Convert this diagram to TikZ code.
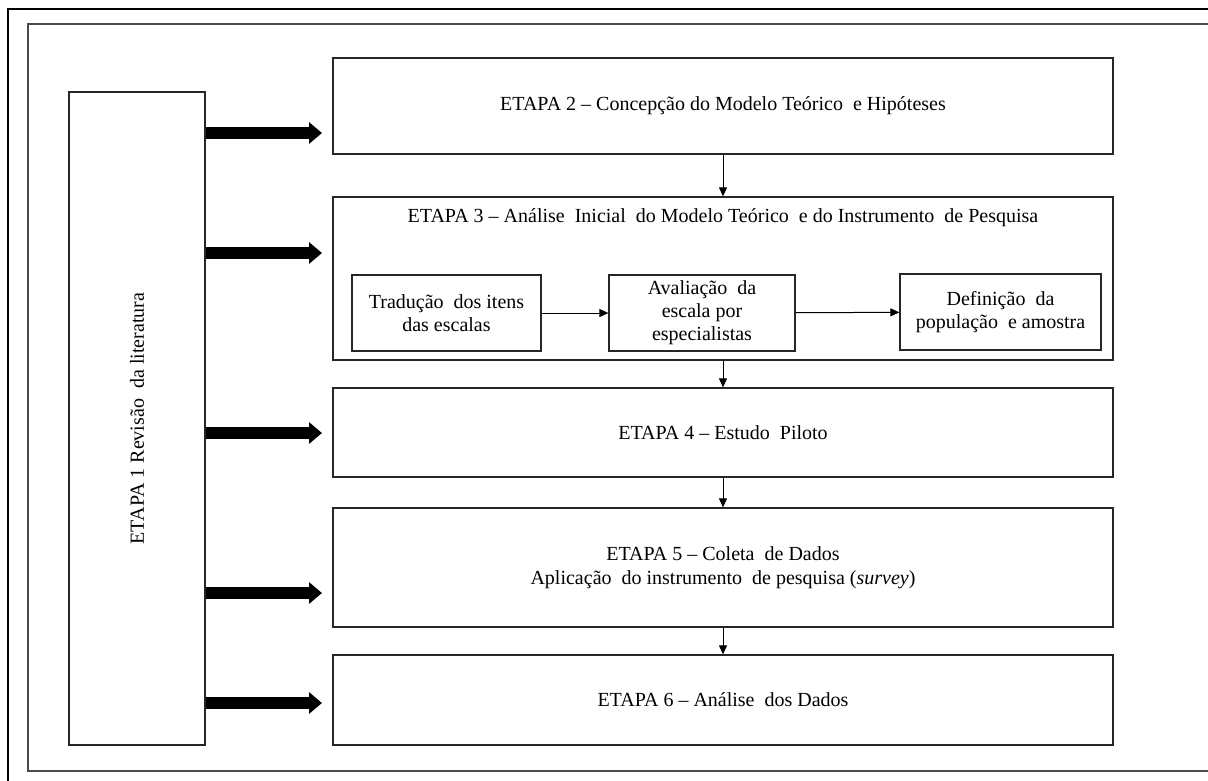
\documentclass[tikz,border=0pt]{standalone}
\usepackage{fontspec}
\setmainfont{Liberation Serif}
\usetikzlibrary{arrows.meta}

\begin{document}
\begin{tikzpicture}[x=1pt,y=-1pt,
  box/.style={draw=black!85, line width=1.3pt, inner sep=0pt, align=center,
              font=\fontsize{20}{24}\selectfont},
  label/.style={inner sep=0pt, align=center, font=\fontsize{20}{24}\selectfont},
  small/.style={font=\fontsize{20}{23}\selectfont},
  flow/.style={-{Triangle[length=9pt,width=8pt]}, line width=1pt},
  bigarrow/.style={-{Triangle[length=13pt,width=21pt]}, line width=12pt}
]
\useasboundingbox (0,0) rectangle (1208,780);

% page frames
\draw[line width=2pt] (8,800) -- (8,9) -- (1230,9);
\draw[line width=1.5pt, black!70] (1230,771) -- (28,771) -- (28,24) -- (1230,24);

% stage 1: literature review, spanning all stages
\node[box, minimum width=136pt, minimum height=653pt] (e1) at (137,418.5) {};
\node[label, rotate=90] (e1t) at (e1.center) {ETAPA 1 Revisão \ da literatura};

% stages 2 to 6
\node[box, minimum width=780pt, minimum height=96pt] (e2) at (723,106)
  {ETAPA 2 -- Concepção do Modelo Teórico \ e Hipóteses};
\node[box, minimum width=780pt, minimum height=163pt] (e3) at (723,278.5) {};
\node[label] (e3t) at (723,218)
  {ETAPA 3 -- Análise \ Inicial \ do Modelo Teórico \ e do Instrumento \ de Pesquisa};
\node[box, minimum width=780pt, minimum height=89pt] (e4) at (723,432.5)
  {ETAPA 4 -- Estudo \ Piloto};
\node[box, minimum width=780pt, minimum height=119pt] (e5) at (723,567.5)
  {ETAPA 5 -- Coleta \ de Dados\\ Aplicação \ do instrumento \ de pesquisa (\textit{survey})};
\node[box, minimum width=780pt, minimum height=90pt] (e6) at (723,700)
  {ETAPA 6 -- Análise \ dos Dados};

% steps inside stage 3
\node[box, small, minimum width=189pt, minimum height=76pt] (s1) at (446.5,313)
  {Tradução \ dos itens\\ das escalas};
\node[box, small, minimum width=186pt, minimum height=76pt] (s2) at (702,313)
  {Avaliação \ da\\ escala por\\ especialistas};
\node[box, small, minimum width=201pt, minimum height=76pt] (s3) at (1000.5,312)
  {Definição \ da\\ população \ e amostra};

\draw[flow] (s1) -- (s2);
\draw[flow] (s2) -- (s3);

% sequence of stages
\draw[flow] (e2.south) -- (e3.north);
\draw[flow] (e3.south) -- (e4.north);
\draw[flow] (e4.south) -- (e5.north);
\draw[flow] (e5.south) -- (e6.north);

% literature feeding every stage
\coordinate (a2) at (322,133);
\coordinate (a3) at (322,253);
\coordinate (a4) at (322,433);
\coordinate (a5) at (322,593);
\coordinate (a6) at (322,703);
\foreach \c in {a2,a3,a4,a5,a6}
  \draw[bigarrow] (e1.east |- \c) -- (\c);
\end{tikzpicture}
\end{document}
